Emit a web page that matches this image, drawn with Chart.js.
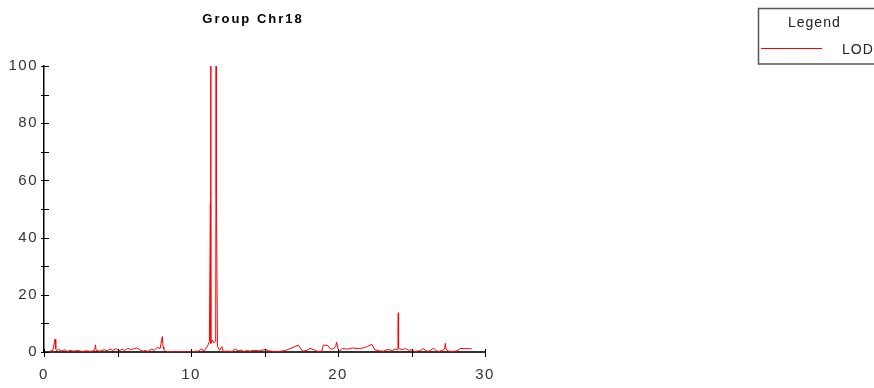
<!DOCTYPE html>
<html>
<head>
<meta charset="utf-8">
<title>Group Chr18</title>
<script src="https://cdn.jsdelivr.net/npm/chart.js@4.4.1/dist/chart.umd.min.js"></script>
<style>
  html, body { margin: 0; padding: 0; background: #fff; }
  #chart { display: block; }
</style>
</head>
<body>
<canvas id="chart" width="874" height="388"></canvas>
<script>
// map position (cM) and LOD score
const positions = [
  0.4, 0.6, 0.75, 0.8, 0.85, 1.0, 1.2, 1.4, 1.6, 1.8, 2.0, 2.3, 2.6, 2.9, 3.2, 3.45, 3.5, 3.55, 3.8,
  4.1, 4.3, 4.5, 4.7, 4.9, 5.1, 5.3, 5.5, 5.7, 5.9, 6.1, 6.3, 6.5, 6.7, 6.9, 7.1, 7.3, 7.5, 7.7, 7.9,
  8.05, 8.1, 8.15, 8.3, 8.6, 9.0, 9.5, 10.0, 10.5, 10.7, 10.9, 11.1, 11.25, 11.32, 11.34, 11.36,
  11.45, 11.55, 11.68, 11.71, 11.73, 11.8, 11.95, 12.1, 12.2, 12.5, 12.8, 13.0, 13.2, 13.4, 13.6,
  13.8, 14.0, 14.3, 14.6, 14.9, 15.1, 15.3, 15.6, 16.0, 16.4, 16.8, 17.3, 17.6, 17.9, 18.1, 18.4,
  18.6, 18.9, 19.0, 19.3, 19.5, 19.7, 19.85, 19.9, 20.0, 20.1, 20.3, 20.6, 21.0, 21.4, 21.8, 22.0,
  22.3, 22.5, 22.8, 23.1, 23.4, 23.7, 23.9, 24.05, 24.08, 24.1, 24.12, 24.2, 24.4, 24.6, 24.8, 25.0,
  25.2, 25.4, 25.6, 25.8, 26.0, 26.2, 26.5, 26.7, 26.9, 27.1, 27.25, 27.3, 27.35, 27.5, 27.8, 28.1,
  28.3, 28.7, 29.1
];
const lodScores = [
  0.3, 0.5, 4.5, 1.2, 0.4, 0.9, 0.3, 0.8, 0.2, 0.6, 0.3, 0.5, 0.2, 0.4, 0.2, 0.6, 2.5, 0.5, 0.3,
  0.8, 0.4, 1.0, 0.5, 1.2, 0.4, 0.9, 0.6, 1.3, 0.8, 1.1, 1.4, 0.9, 0.3, 0.5, 0.2, 1.0, 0.6, 1.6, 1.2,
  5.4, 1.8, 1.0, 0.1, 0.1, 0.1, 0.1, 0.1, 0.3, 1.0, 0.4, 1.8, 3.6, 52, 100, 3.0,
  4.2, 3.2, 3.8, 100, 55, 2.0, 0.6, 1.9, 0.2, 0.3, 0.2, 1.0, 0.4, 0.7, 0.2,
  0.5, 0.3, 0.6, 0.4, 0.7, 0.9, 0.4, 0.2, 0.2, 0.5, 1.3, 2.4, 0.3, 0.6, 1.3, 0.7,
  0.2, 0.3, 2.4, 2.3, 1.0, 1.1, 2.0, 3.4, 1.2, 0.3, 1.2, 1.0, 1.4, 1.2, 1.5, 1.9,
  2.7, 0.8, 0.4, 0.3, 0.9, 0.5, 1.0, 0.8, 8.0, 13.7, 1.5, 1.0, 0.9, 1.2, 0.6, 0.8,
  0.2, 0.3, 0.5, 1.2, 0.4, 0.3, 1.3, 0.4, 0.2, 0.6, 1.0, 3.0, 1.0, 0.3, 0.2, 0.4,
  1.2, 1.2, 1.1
];
const xTicks = [0, 10, 20, 30];
const yTicks = [0, 20, 40, 60, 80, 100];
const seriesLabel = 'LOD';
const chartTitle = 'Group Chr18';
const legendTitle = 'Legend';

const narrowFont = "'Liberation Sans Narrow', 'Liberation Sans', Arial, sans-serif";
const plainFont = "'Liberation Sans', Arial, sans-serif";

// spaced-out lettering like the original
const spacingPlugin = {
  id: 'spacing',
  beforeDraw(chart) {
    chart.ctx.letterSpacing = '1.5px';
  }
};

// tick marks that cross the axis lines
const crossTicks = {
  id: 'crossTicks',
  afterDraw(chart) {
    const ctx = chart.ctx;
    const { x, y } = chart.scales;
    ctx.save();
    ctx.strokeStyle = '#000';
    ctx.lineWidth = 1;
    ctx.beginPath();
    y.ticks.forEach(t => {
      const py = Math.round(y.getPixelForValue(t.value)) + 0.5;
      ctx.moveTo(y.right - 3, py);
      ctx.lineTo(y.right + 5, py);
    });
    x.ticks.forEach(t => {
      const px = Math.round(x.getPixelForValue(t.value)) + 0.5;
      ctx.moveTo(px, x.top - 3);
      ctx.lineTo(px, x.top + 5);
    });
    ctx.stroke();
    ctx.restore();
  }
};

const titleAndLegend = {
  id: 'titleAndLegend',
  afterDraw(chart) {
    const ctx = chart.ctx;
    const area = chart.chartArea;
    ctx.save();
    // title
    ctx.letterSpacing = '2px';
    ctx.font = 'bold 13px ' + plainFont;
    ctx.fillStyle = '#000';
    ctx.textAlign = 'center';
    ctx.textBaseline = 'middle';
    ctx.fillText(chartTitle, area.left + 209, 19);

    // legend box
    ctx.strokeStyle = '#555';
    ctx.lineWidth = 1.5;
    ctx.strokeRect(758.5, 8.5, 140, 55.5);
    ctx.letterSpacing = '1px';
    ctx.font = '14px ' + narrowFont;
    ctx.fillStyle = '#222';
    ctx.textAlign = 'left';
    ctx.fillText(legendTitle, 788, 23);
    const ds = chart.data.datasets[0];
    ctx.strokeStyle = ds.borderColor;
    ctx.lineWidth = 1;
    ctx.beginPath();
    ctx.moveTo(761, 48.5);
    ctx.lineTo(822, 48.5);
    ctx.stroke();
    ctx.fillText(ds.label, 842, 50);
    ctx.restore();
  }
};

const ctx = document.getElementById('chart');

new Chart(ctx, {
  type: 'line',
  data: {
    datasets: [{
      label: seriesLabel,
      data: positions.map((p, i) => ({ x: p, y: lodScores[i] })),
      borderColor: '#ff0000',
      borderWidth: 1,
      pointRadius: 0,
      tension: 0,
      fill: false
    }]
  },
  options: {
    responsive: false,
    devicePixelRatio: 1,
    animation: false,
    layout: { padding: { top: 66, right: 389, bottom: 0, left: 0 } },
    plugins: {
      legend: { display: false },
      title: { display: false },
      tooltip: { enabled: false }
    },
    scales: {
      x: {
        type: 'linear',
        min: 0,
        max: 30,
        afterFit: s => { s.height = 36; },
        grid: { display: false, drawTicks: false },
        border: { display: true, color: '#333', width: 2 },
        ticks: {
          stepSize: 5,
          padding: 14,
          maxRotation: 0,
          color: '#333',
          font: { family: narrowFont, size: 15 },
          callback: v => xTicks.includes(v) ? String(v) : ''
        }
      },
      y: {
        min: 0,
        max: 100,
        afterFit: s => { s.width = 44; },
        grid: { display: false, drawTicks: false },
        border: { display: true, color: '#000', width: 1.5 },
        ticks: {
          stepSize: 10,
          padding: 6,
          color: '#333',
          font: { family: narrowFont, size: 15 },
          callback: v => yTicks.includes(v) ? String(v) : ''
        }
      }
    }
  },
  plugins: [spacingPlugin, crossTicks, titleAndLegend]
});
</script>
</body>
</html>
